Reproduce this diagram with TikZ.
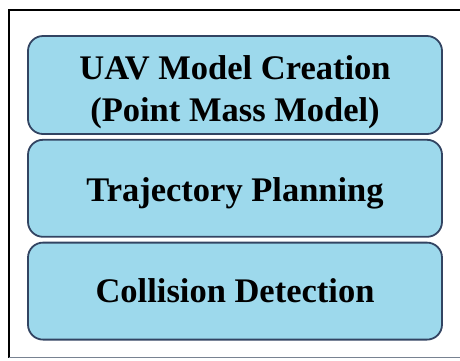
\documentclass[tikz,border=0pt]{standalone}
\usepackage{fontspec}
\setmainfont{Liberation Serif}[BoldFont={Liberation Serif Bold}]
\usepackage{tikz}
\usetikzlibrary{positioning}
\definecolor{corfundoetapa}{RGB}{157,217,236}
\definecolor{corbordaetapa}{RGB}{50,68,98}
\definecolor{corsombra}{RGB}{120,130,145}

\tikzset{
  etapa/.style={fill=corfundoetapa, draw=corbordaetapa, line width=1.8pt,
    rounded corners=15pt, minimum width=414pt, minimum height=97pt,
    align=center, font=\fontsize{34.5}{42}\selectfont\bfseries, inner sep=0pt}
}
% desce o texto dentro da caixa
\newcommand{\descer}[2]{\raisebox{0pt}[\dimexpr\height+#1\relax][\depth]{#2}}

\begin{document}
\begin{tikzpicture}[x=1pt,y=-1pt]
  \useasboundingbox (0,0) rectangle (460,360);
  % moldura
  \draw[line width=2pt] (460,10) -| (8.5,357.5);
  \draw[line width=1.2pt, corsombra] (8.5,357.5) -- (460,357.5);
  % etapas
  \node [etapa] (modelo) at (235,85)
    {\descer{14pt}{\begin{tabular}{@{}c@{}}UAV Model Creation\\(Point Mass Model)\end{tabular}}};
  \node [etapa, below=4pt of modelo] (trajetoria) {\descer{11pt}{Trajectory Planning}};
  \node [etapa, below=4pt of trajetoria] (colisao) {Collision Detection};
\end{tikzpicture}
\end{document}
